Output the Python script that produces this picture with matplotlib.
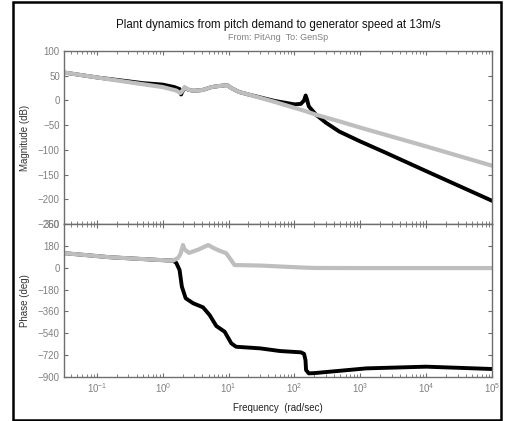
import matplotlib
matplotlib.use('Agg')
import matplotlib.pyplot as plt
from matplotlib.patches import Rectangle
from matplotlib.ticker import LogLocator, NullFormatter, FixedLocator

plt.rcParams['font.family'] = ['Liberation Sans', 'DejaVu Sans']
plt.rcParams['mathtext.fontset'] = 'custom'
plt.rcParams['mathtext.rm'] = 'Liberation Sans'

title = 'Plant dynamics from pitch demand to generator speed at 13m/s'
subtitle = 'From: PitAng  To: GenSp'

# magnitude (dB), gray curve
mag_gray_f = [0.0316, 0.1, 0.3, 1.0, 1.6, 1.85, 2.0, 2.15, 2.4, 2.9, 4.0, 5.5, 7.0, 9.5,
              11, 14.5, 20, 50, 100, 150, 213, 500, 1000, 10000, 100000]
mag_gray = [56.5, 46.5, 37, 27, 20, 15, 20, 27, 22, 19.5, 21, 27, 29, 31,
            25, 17, 12, -3, -15, -22, -29, -43, -55, -93, -132]

# magnitude (dB), black curve
mag_black_f = [0.0316, 0.1, 0.5, 1.0, 1.5, 1.8, 1.9, 1.95, 2.05, 2.15, 2.4, 2.9, 4.0, 5.5,
               7.0, 9.5, 11, 14.5, 20, 50, 100, 125, 140, 148, 155, 165, 213, 300, 480,
               1000, 2450, 10000, 100000]
mag_black = [56.5, 46.5, 35, 32, 27, 23, 12, 16, 21, 26, 22, 19.5, 21, 27,
             29, 31, 25, 17, 12, -1, -8, -7, 0, 10, 2, -12, -29, -45, -63,
             -83, -106, -143, -203]

# phase (deg), gray curve
ph_gray_f = [0.0316, 0.16, 0.9, 1.43, 1.7, 1.85, 2.03, 2.15, 2.5, 3.5, 4.9, 6.0, 7.3, 9.2,
             11, 12.3, 30, 60, 126, 200, 1000, 100000]
ph_gray = [120, 86, 63.5, 58, 80, 110, 187, 150, 122, 150, 187, 160, 140, 119,
           60, 22, 18, 10, 2, -2, -3, -3]

# phase (deg), black curve
ph_black_f = [0.0316, 0.16, 0.9, 1.43, 1.6, 1.8, 1.95, 2.23, 2.9, 4.08, 5.15, 6.5, 8.7, 11,
              13, 30, 60, 126, 140, 147, 150, 165, 200, 1230, 10000, 100000]
ph_black = [120, 86, 63.5, 58, 41, -19, -156, -252, -293, -326, -390, -480, -527, -623,
            -651, -664, -686, -697, -710, -760, -843, -870, -868, -829, -815, -834]

mag_ticks = [100, 50, 0, -50, -100, -150, -200, -250]
ph_ticks = [360, 180, 0, -180, -360, -540, -720, -900]
freq_ticks = [0.1, 1, 10, 100, 1000, 10000, 100000]

W, H = 510, 421
fig = plt.figure(figsize=(W / 100, H / 100), dpi=100)
ax1 = fig.add_axes([64 / W, 1 - 224 / H, 428 / W, 173 / H])
ax2 = fig.add_axes([64 / W, 1 - 377 / H, 428 / W, 153 / H])

spine_c = '#6e6e6e'
tick_c = '#808080'
for ax in (ax1, ax2):
    ax.set_xscale('log')
    ax.set_xlim(10 ** -1.5, 1e5)
    ax.xaxis.set_major_locator(FixedLocator(freq_ticks))
    ax.xaxis.set_minor_locator(LogLocator(base=10, subs=range(2, 10), numticks=20))
    ax.xaxis.set_minor_formatter(NullFormatter())
    ax.tick_params(which='both', direction='in', top=True, right=True,
                   colors=spine_c, labelcolor=tick_c, labelsize=7, pad=3)
    ax.tick_params(which='major', length=3, width=0.8)
    ax.tick_params(which='minor', length=2, width=0.6)
    for s in ax.spines.values():
        s.set_color(spine_c)
        s.set_linewidth(1.0)

ax1.plot(mag_black_f, mag_black, color='black', lw=2.8, solid_joinstyle='round')
ax1.plot(mag_gray_f, mag_gray, color='#bebebe', lw=3.0, solid_joinstyle='round')
ax1.set_ylim(-250, 100)
ax1.set_yticks(mag_ticks)
ax1.tick_params(axis='x', labelbottom=False)
ax1.set_ylabel('Magnitude (dB)', fontsize=7, color='#333333')
ax1.yaxis.set_label_coords(-0.079, 0.5)

ax2.plot(ph_black_f, ph_black, color='black', lw=2.8, solid_joinstyle='round')
ax2.plot(ph_gray_f, ph_gray, color='#bebebe', lw=3.0, solid_joinstyle='round')
ax2.set_ylim(-900, 360)
ax2.set_yticks(ph_ticks)
ax2.set_ylabel('Phase (deg)', fontsize=7, color='#333333')
ax2.yaxis.set_label_coords(-0.079, 0.5)
ax2.set_xlabel('Frequency  (rad/sec)', fontsize=7, color='#222222')
ax2.xaxis.set_label_coords(0.5, -0.17)

fig.text(278 / W, 1 - 25 / H, title, ha='center', va='center', fontsize=8.3, color='#111111')
fig.text(278 / W, 1 - 38 / H, subtitle, ha='center', va='center', fontsize=6.5, color='#808080')

# outer frame
fig.add_artist(Rectangle((13.5 / W, 1 - 419.5 / H), 488 / W, 417.5 / H,
                         transform=fig.transFigure, fill=False, ec='black', lw=1.8))

fig.savefig('out.png', dpi=100)
